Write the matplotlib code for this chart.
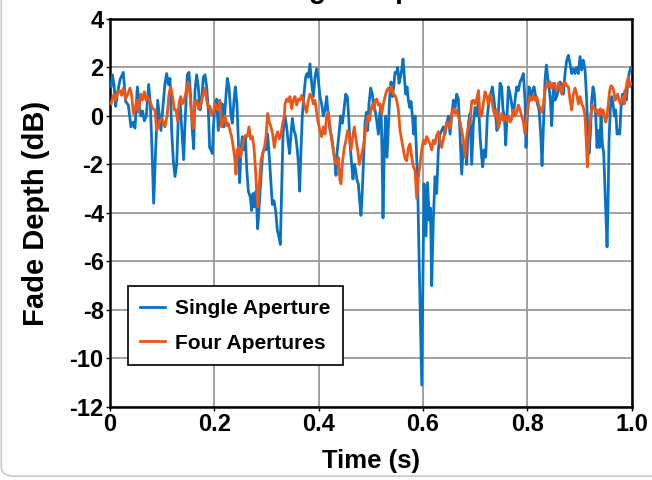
import matplotlib
matplotlib.use("Agg")
import matplotlib.pyplot as plt
from matplotlib.patches import FancyBboxPatch

plt.rcParams['font.family'] = ['Liberation Sans', 'DejaVu Sans']
plt.rcParams['axes.unicode_minus'] = False

# Single aperture trace (time in s, fade depth in dB)
t_single = [
    0.002, 0.0045, 0.0077, 0.0108, 0.0140, 0.0192, 0.0255, 0.0300, 0.0351, 0.0402,
    0.0447, 0.0479, 0.0524, 0.0562, 0.0594, 0.0626, 0.0658, 0.0696, 0.0741, 0.0773,
    0.0805, 0.0837, 0.0875, 0.0914, 0.0946, 0.0977, 0.1009, 0.1054, 0.1086, 0.1118,
    0.1150, 0.1182, 0.1214, 0.1246, 0.1278, 0.1310, 0.1342, 0.1374, 0.1412, 0.1444,
    0.1482, 0.1514, 0.1546, 0.1578, 0.1604,
    0.1629, 0.1661, 0.1693, 0.1725, 0.1757, 0.1789, 0.1821, 0.1853, 0.1885, 0.1910,
    0.1936, 0.1961, 0.1987, 0.2012, 0.2044, 0.2076, 0.2102, 0.2127, 0.2153, 0.2185,
    0.2217, 0.2249, 0.2281, 0.2319, 0.2345, 0.2377, 0.2402, 0.2434, 0.2460, 0.2485,
    0.2511, 0.2536, 0.2568, 0.2594, 0.2619, 0.2651, 0.2690, 0.2715, 0.2741, 0.2766,
    0.2798, 0.2830, 0.2862, 0.2894, 0.2926, 0.2958, 0.2990, 0.3022, 0.3054, 0.3086,
    0.3111, 0.3143, 0.3175, 0.3207, 0.3239, 0.3265, 0.3290, 0.3316,
    0.3354, 0.3386, 0.3418, 0.3443, 0.3469, 0.3495, 0.3527, 0.3558, 0.3590, 0.3616,
    0.3635, 0.3661, 0.3686, 0.3718, 0.3750, 0.3776, 0.3801, 0.3833, 0.3865, 0.3897,
    0.3929, 0.3961, 0.3993, 0.4025, 0.4057, 0.4089, 0.4121, 0.4153, 0.4185, 0.4217,
    0.4249, 0.4281, 0.4312, 0.4332, 0.4357, 0.4389, 0.4421, 0.4453, 0.4485, 0.4517,
    0.4549, 0.4574, 0.4600, 0.4632, 0.4657, 0.4683, 0.4709, 0.4734, 0.4760, 0.4785,
    0.4811, 0.4836, 0.4862, 0.4888, 0.4913, 0.4939, 0.4964, 0.4996, 0.5028, 0.5060,
    0.5080, 0.5112, 0.5144, 0.5169, 0.5195, 0.5214, 0.5233, 0.5259, 0.5284, 0.5310,
    0.5336, 0.5361, 0.5387, 0.5412, 0.5438, 0.5463, 0.5489, 0.5514, 0.5540, 0.5566,
    0.5591, 0.5617, 0.5642, 0.5668, 0.5693, 0.5719, 0.5745, 0.5770, 0.5796, 0.5821,
    0.5847, 0.5872, 0.5898, 0.5910, 0.5975, 0.6019, 0.6057, 0.6086, 0.6120, 0.6143,
    0.6166, 0.6197, 0.6230, 0.6262, 0.6293, 0.6325, 0.6358, 0.6390, 0.6422, 0.6454,
    0.6486, 0.6518, 0.6550, 0.6582, 0.6614, 0.6645, 0.6677, 0.6709, 0.6741, 0.6773,
    0.6805, 0.6837, 0.6869, 0.6901, 0.6933, 0.6965, 0.6997, 0.7029, 0.7061, 0.7093,
    0.7124, 0.7144, 0.7169, 0.7201, 0.7233, 0.7265, 0.7297, 0.7329, 0.7361, 0.7393,
    0.7418, 0.7444, 0.7476, 0.7508, 0.7533, 0.7559, 0.7585, 0.7610, 0.7636, 0.7668,
    0.7700, 0.7732, 0.7763, 0.7795, 0.7827, 0.7859, 0.7891, 0.7923, 0.7955, 0.7974,
    0.8000, 0.8032, 0.8064, 0.8096, 0.8128, 0.8160, 0.8192, 0.8224, 0.8256, 0.8281,
    0.8307, 0.8339, 0.8364, 0.8390, 0.8415, 0.8441, 0.8466, 0.8492, 0.8517,
    0.8530, 0.8562, 0.8594, 0.8626, 0.8658, 0.8690, 0.8722, 0.8754, 0.8786, 0.8818,
    0.8849, 0.8881, 0.8913, 0.8945, 0.8977, 0.9009, 0.9041, 0.9073, 0.9105, 0.9131,
    0.9156, 0.9182, 0.9207, 0.9233, 0.9258, 0.9284, 0.9310, 0.9335, 0.9361, 0.9386,
    0.9412, 0.9437, 0.9463, 0.9488, 0.9508, 0.9527, 0.9546, 0.9565, 0.9591, 0.9616,
    0.9642, 0.9667, 0.9693, 0.9719, 0.9744, 0.9770, 0.9795, 0.9821, 0.9846, 0.9872,
    0.9897, 0.9923, 0.9949, 0.9981,
]
fade_single = [
    1.2, 1.7, 1.3, 0.4, 0.9, 1.5, 1.8, 0.6, 0.45, -0.45,
    -0.25, -0.5, 1.2, 0.4, 0.0, 0.2, -0.2, 0.0, 1.3, 0.5,
    -1.4, -3.6, -1.4, 0.65, 0.0, -0.6, 0.25, 1.35, 1.75, 1.3,
    1.55, -0.6, -1.85, -2.5, -2.0, 0.0, 0.65, -0.45, -1.8, 0.0,
    1.7, 1.8, 0.8, -0.6, -1.35,
    1.05, 1.7, 1.2, 0.25, 0.65, 1.6, 1.7, 1.2, 0.25, -1.3,
    -1.4, -1.55, -0.3, 0.5, 0.7, -0.6, 0.65, 0.3, 0.5, -0.45,
    0.65, 1.55, 1.2, 0.0, -0.3, 0.65, 1.2, 0.5, -1.0, -2.75,
    -1.4, -0.85, -1.4, -0.85, -2.1, -3.1, -3.35, -3.9, -3.2, -3.75,
    -3.1, -4.65, -3.65, -2.5, -1.55, -1.3, -1.4, -0.75, -1.7, -2.8,
    -3.65, -3.5, -3.9, -4.7, -5.0, -5.3, -3.1, -0.75,
    0.0, -0.45, -1.15, -1.55, -0.75, -0.1, -0.6, -0.8, -1.4, -2.1,
    -3.1, -1.4, 0.0, 0.9, 1.6, 1.75, 1.6, 2.15, 1.35, 0.8,
    1.6, 1.95, 1.5, 0.8, 0.5, 0.0, 0.25, 0.8, 0.0, -0.6,
    -0.85, -1.4, -1.85, -2.45, -1.4, -0.75, 0.0, -0.3, 0.25, 0.9,
    0.8, 0.0, -1.15, -2.0, -2.6, -2.0, -2.25, -2.65, -2.8, -3.5,
    -4.1, -3.1, -1.7, -0.3, 0.15, -0.6, 0.5, 1.15, 0.9, 0.25,
    0.25, -0.2, -0.75, 0.1, 0.35, -1.5, -4.2, -1.15, 0.0, -1.7,
    -0.45, 0.8, 1.4, 0.8, 1.2, 1.8, 1.75, 2.0, 1.35, 1.6,
    1.9, 2.35, 1.6, 0.9, 1.2, 0.65, 0.35, 0.6, 0.0, -0.75,
    0.0, -1.4, -2.8, -4.3, -11.1, -2.8, -4.95, -2.75, -4.3, -3.8,
    -7.0, -4.3, -2.5, -3.2, -1.4, -0.75, -0.6, -0.45, -0.75, -0.3,
    0.0, -0.75, 0.0, 0.65, 0.35, 0.9, 0.7, -0.75, -2.4, -1.15,
    -1.15, -2.0, -0.3, 0.1, -2.0, -0.3, 0.35, 0.0, 0.65, -0.85,
    -1.7, -2.1, -1.4, -1.7, 0.0, 0.65, 0.9, 1.2, 0.65, 0.0,
    -0.6, 0.15, 1.35, 1.2, 0.25, 0.0, -1.2, 0.0, 1.2, 0.9,
    0.5, 0.0, 0.65, 1.2, 1.05, 1.4, 1.55, 1.75, 0.65, -1.3,
    0.0, 1.2, 0.65, 1.05, 1.2, 0.8, 0.5, 0.25, -0.75, -2.05,
    -0.45, 1.5, 2.1, 1.6, 1.2, 0.65, -0.4, 0.9, 1.35,
    0.65, 0.8, 1.05, 1.4, 1.2, 0.9, 1.75, 2.3, 2.5, 2.15,
    1.75, 1.95, 1.75, 2.0, 1.75, 2.45, 1.9, 2.3, 1.9, 0.9,
    -0.45, -1.55, -0.75, 0.65, 1.2, 0.9, 0.0, -1.3, -0.6, -1.3,
    0.0, -1.15, -1.55, -3.1, -4.45, -5.4, -3.65, -1.0, 0.35, 0.8,
    0.5, 0.0, 0.25, -0.75, -0.6, -0.75, 0.35, 0.9, 0.5, 1.05,
    0.65, 1.35, 1.75, 2.0,
]

# Four aperture trace
t_four = [
    0.002, 0.0045, 0.0077, 0.0108, 0.0147, 0.0192, 0.0223, 0.0255, 0.0300, 0.0339,
    0.0383, 0.0415, 0.0447, 0.0479, 0.0511, 0.0543, 0.0588, 0.0620, 0.0658, 0.0690,
    0.0722, 0.0767, 0.0818, 0.0862, 0.0894, 0.0926, 0.0958, 0.0990, 0.1022, 0.1054,
    0.1093, 0.1131, 0.1163, 0.1201, 0.1233, 0.1265, 0.1297, 0.1323, 0.1355, 0.1386,
    0.1418, 0.1457, 0.1501, 0.1533, 0.1565, 0.1597,
    0.1629, 0.1661, 0.1693, 0.1725, 0.1757, 0.1789, 0.1821, 0.1853, 0.1885, 0.1917,
    0.1949, 0.1981, 0.2012, 0.2044, 0.2076, 0.2108, 0.2140, 0.2172, 0.2204, 0.2236,
    0.2268, 0.2300, 0.2332, 0.2364, 0.2396, 0.2415, 0.2440, 0.2472, 0.2504, 0.2536,
    0.2568, 0.2600, 0.2632, 0.2664, 0.2696, 0.2728, 0.2760, 0.2786, 0.2811, 0.2837,
    0.2862, 0.2894, 0.2926, 0.2958, 0.2990, 0.3022, 0.3054, 0.3086, 0.3118, 0.3150,
    0.3182, 0.3214, 0.3246, 0.3278, 0.3310, 0.3342,
    0.3354, 0.3386, 0.3418, 0.3450, 0.3482, 0.3514, 0.3546, 0.3578, 0.3610, 0.3642,
    0.3674, 0.3706, 0.3738, 0.3769, 0.3801, 0.3833, 0.3865, 0.3897, 0.3929, 0.3961,
    0.3993, 0.4025, 0.4057, 0.4089, 0.4121, 0.4153, 0.4185, 0.4217, 0.4249, 0.4281,
    0.4312, 0.4344, 0.4376, 0.4408, 0.4427, 0.4459, 0.4491, 0.4523, 0.4555, 0.4587,
    0.4619, 0.4651, 0.4683, 0.4715, 0.4747, 0.4779, 0.4811, 0.4843, 0.4875, 0.4907,
    0.4939, 0.4971, 0.5003, 0.5035, 0.5067,
    0.5080, 0.5112, 0.5144, 0.5176, 0.5208, 0.5240, 0.5272, 0.5304, 0.5336, 0.5368,
    0.5399, 0.5431, 0.5463, 0.5495, 0.5527, 0.5559, 0.5591, 0.5623, 0.5655, 0.5687,
    0.5719, 0.5751, 0.5783, 0.5815, 0.5847, 0.5879, 0.5911, 0.5943, 0.5974, 0.6006,
    0.6038, 0.6070, 0.6102, 0.6134, 0.6166, 0.6198, 0.6230, 0.6262, 0.6294, 0.6326,
    0.6358, 0.6390, 0.6422, 0.6454, 0.6486, 0.6518, 0.6550, 0.6582, 0.6614, 0.6645,
    0.6677, 0.6709, 0.6741, 0.6773,
    0.6805, 0.6837, 0.6869, 0.6901, 0.6933, 0.6965, 0.6997, 0.7029, 0.7061, 0.7093,
    0.7124, 0.7156, 0.7188, 0.7220, 0.7252, 0.7284, 0.7316, 0.7348, 0.7380, 0.7412,
    0.7444, 0.7476, 0.7508, 0.7540, 0.7572, 0.7604, 0.7636, 0.7668, 0.7700, 0.7732,
    0.7763, 0.7795, 0.7827, 0.7859, 0.7891, 0.7923, 0.7955, 0.7987, 0.8019, 0.8051,
    0.8083, 0.8115, 0.8147, 0.8179, 0.8211, 0.8243, 0.8275, 0.8307, 0.8339, 0.8371,
    0.8403, 0.8434, 0.8466, 0.8498,
    0.8530, 0.8562, 0.8594, 0.8626, 0.8658, 0.8690, 0.8722, 0.8754, 0.8786, 0.8818,
    0.8849, 0.8881, 0.8913, 0.8945, 0.8977, 0.9009, 0.9041, 0.9073, 0.9105, 0.9131,
    0.9150, 0.9169, 0.9195, 0.9220, 0.9246, 0.9271, 0.9297, 0.9322, 0.9348, 0.9373,
    0.9399, 0.9425, 0.9450, 0.9476, 0.9501, 0.9527, 0.9552, 0.9578, 0.9603, 0.9629,
    0.9655, 0.9680, 0.9706, 0.9731, 0.9757, 0.9782, 0.9808, 0.9834, 0.9859, 0.9885,
    0.9910, 0.9936, 0.9961, 0.9981,
]
fade_four = [
    0.5, 0.7, 0.9, 0.65, 1.0, 1.05, 0.85, 1.15, 0.7, 0.9,
    1.15, 0.85, 0.1, 0.25, 0.65, 0.15, 0.9, 0.65, 1.0, 0.65,
    0.8, 0.6, 0.3, 0.25, -0.6, -0.45, -0.2, -0.1, -0.25, -0.45,
    0.0, 0.9, 1.2, 0.8, 0.25, 0.25, -0.2, 0.5, 0.8, 0.5,
    0.6, 1.0, 1.4, 0.9, 0.0, -0.5,
    0.6, 0.65, 0.3, 0.35, 0.65, 0.9, 1.15, 0.65, 0.35, 0.4,
    0.05, 0.15, 0.5, 0.3, 0.25, 0.6, -0.45, -0.25, 0.0, -0.4,
    -0.3, -0.6, -0.85, -1.3, -1.85, -2.4, -1.4, -1.3, -1.7, -1.3,
    -0.95, -0.8, -0.85, -0.45, -0.95, -0.85, -1.3, -2.1, -3.1, -3.75,
    -2.8, -1.85, -1.55, -1.35, -0.85, 0.1, -0.25, -0.45, -0.75, -1.3,
    -0.85, -0.65, -0.95, -0.75, -0.3, 0.0,
    0.5, 0.7, 0.6, 0.8, 0.3, 0.65, 0.8, 0.45, 0.7, 0.65,
    0.85, 0.65, 0.35, 0.15, 0.65, 0.9, 0.8, 0.5, 0.65, 0.15,
    -0.3, -0.6, -0.85, -0.45, -0.75, 0.0, 0.15, -0.45, -1.0, -1.4,
    -1.85, -2.0, -1.7, -2.65, -2.8, -1.85, -1.3, -1.0, -0.6, -0.8,
    -1.4, -0.85, -0.45, -1.0, -1.4, -2.0, -1.7, -1.4, -1.0, -0.45,
    0.0, -0.2, 0.3, 0.5, 0.25,
    0.65, 0.7, 0.45, 0.5, 0.1, 0.5, 0.8, 1.05, 1.15, 1.0,
    1.2, 0.9, 0.85, 0.65, 0.25, -0.6, -1.0, -1.4, -1.75, -1.85,
    -1.3, -1.15, -1.7, -2.1, -2.25, -3.4, -2.5, -2.0, -1.4, -1.0,
    -1.15, -0.85, -1.0, -1.15, -1.4, -1.0, -1.15, -0.8, -0.65, -1.0,
    -1.3, -0.95, -0.6, -0.25, -0.3, -0.5, 0.1, 0.3, 0.1, 0.25,
    0.0, -0.25, -0.6, -1.0,
    -1.7, -0.85, -0.45, -0.2, 0.6, 0.65, 0.5, 0.7, 1.05, 0.0,
    0.0, 0.5, 1.0, 0.8, 0.5, 0.9, 0.65, 0.25, 0.0, 0.25,
    -0.5, -0.2, 0.1, -0.2, 0.0, -0.2, 0.0, -0.25, -0.1, 0.25,
    0.0, 0.15, 0.45, 0.25, 0.0, -0.25, -0.75, 0.0, 0.5, 0.8,
    0.65, 0.85, 0.65, 0.8, 0.5, 0.3, 0.15, 0.5, 1.05, 1.35,
    1.2, 1.4, 1.15, 1.35,
    1.2, 1.05, 1.35, 1.2, 0.9, 1.35, 1.4, 1.25, 1.2, 0.65,
    0.25, 0.9, 1.15, 0.9, 0.5, 0.8, 0.5, 0.35, 0.0, -1.15,
    -2.1, -1.3, -0.45, 0.1, 0.45, 0.35, 0.25, 0.15, 0.25, 0.0,
    0.3, 0.1, 0.25, 0.0, -0.25, 0.0, 0.5, 1.05, 1.25, 1.2,
    1.05, 0.65, 0.8, 0.9, 0.65, 0.5, 0.65, 0.8, 0.5, 1.05,
    1.4, 1.6, 1.2, 1.35,
]

x_ticks = [0, 0.2, 0.4, 0.6, 0.8, 1.0]
x_labels = ['0', '0.2', '0.4', '0.6', '0.8', '1.0']
y_ticks = [-12, -10, -8, -6, -4, -2, 0, 2, 4]

fig = plt.figure(figsize=(6.52, 4.8), dpi=100)
# light rounded card outline like the source slide
card = FancyBboxPatch((0.002, 0.008), 1.2, 1.2, boxstyle="round,pad=0,rounding_size=0.02",
                      transform=fig.transFigure, facecolor='none', edgecolor='#c8c8c8', lw=1.2)
fig.patches.append(card)

ax = fig.add_axes([0.1687, 0.1523, 0.8002, 0.8081])
ax.plot(t_single, fade_single, color='#0A72C4', lw=2.0, label='Single Aperture', zorder=3)
ax.plot(t_four, fade_four, color='#EC5616', lw=2.0, label='Four Apertures', zorder=4)

ax.set_xlim(0, 1.0)
ax.set_ylim(-12, 4)
ax.set_xticks(x_ticks)
ax.set_xticklabels(x_labels)
ax.set_yticks(y_ticks)
ax.grid(True, color='#9a9a9a', lw=1.3)
ax.set_axisbelow(True)
for s in ax.spines.values():
    s.set_linewidth(1.8)
    s.set_color('black')
ax.tick_params(direction='out', length=3, width=1, pad=1.5, labelsize=17)
for lab in ax.get_xticklabels() + ax.get_yticklabels():
    lab.set_fontweight('bold')

ax.set_xlabel('Time (s)', fontsize=18.5, fontweight='bold', labelpad=9)
ax.set_ylabel('Fade Depth (dB)', fontsize=21, fontweight='bold', labelpad=14)

leg = ax.legend(loc='lower left', bbox_to_anchor=(0.0345, 0.108), borderaxespad=0,
                fancybox=False, prop={'weight': 'bold', 'size': 15}, handlelength=1.2,
                handletextpad=0.45, borderpad=0.6, labelspacing=0.75, framealpha=1)
leg.get_frame().set_edgecolor('black')
leg.get_frame().set_linewidth(1.2)

# slide title, mostly cut off by the top edge as in the source
fig.text(0.56, 1.004, 'Fading Comparison', ha='center', va='baseline',
         fontsize=20, fontweight='bold')

fig.savefig('out.png', dpi=100)
